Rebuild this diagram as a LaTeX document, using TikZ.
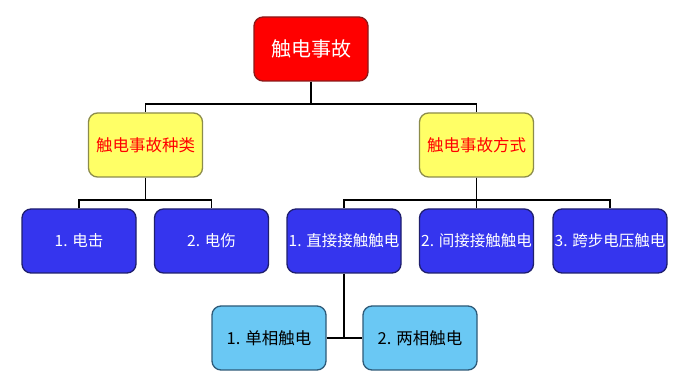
\documentclass[tikz,border=0pt]{standalone}
\usepackage{fontspec}
\newfontfamily\cjk{Noto Sans CJK SC}
\definecolor{redfill}{HTML}{FF0000}
\definecolor{redline}{HTML}{8B1A1A}
\definecolor{yelfill}{HTML}{FFFF66}
\definecolor{yelline}{HTML}{8C8C4A}
\definecolor{bluefill}{HTML}{3535EE}
\definecolor{blueline}{HTML}{1E1E6E}
\definecolor{lbfill}{HTML}{6AC8F4}
\definecolor{lbline}{HTML}{2E5A78}
\begin{document}
\begin{tikzpicture}[x=1pt,y=-1pt,
  box/.style={rounded corners=9pt,line width=1.3pt,minimum width=114pt,minimum height=64pt,inner sep=0pt,font=\cjk},
  topbox/.style={box,fill=redfill,draw=redline,text=white,font=\cjk\fontsize{20}{24}\selectfont},
  yelbox/.style={box,fill=yelfill,draw=yelline,text=red,font=\cjk\fontsize{16.5}{20}\selectfont},
  bluebox/.style={box,fill=bluefill,draw=blueline,text=white,font=\cjk\fontsize{15.5}{19}\selectfont},
  lbbox/.style={box,fill=lbfill,draw=lbline,text=black,font=\cjk\fontsize{16.5}{20}\selectfont},
  conn/.style={line width=1.6pt,black}]
\useasboundingbox[fill=white] (0,0) rectangle (681,387);
\node[topbox] (top) at (311,49) {触电事故};
\node[yelbox] (y1) at (145.5,145) {触电事故种类};
\node[yelbox] (y2) at (476.5,145) {触电事故方式};
\node[bluebox] (b1) at (79,241) {1. 电击};
\node[bluebox] (b2) at (211.5,241) {2. 电伤};
\node[bluebox] (b3) at (344,241) {1. 直接接触触电};
\node[bluebox] (b4) at (476.5,241) {2. 间接接触触电};
\node[bluebox] (b5) at (610,241) {3. 跨步电压触电};
\node[lbbox] (l1) at (269,338) {1. 单相触电};
\node[lbbox] (l2) at (420,338) {2. 两相触电};
\coordinate (hy1) at (0,104);
\coordinate (hy2) at (0,200);
\draw[conn] (top.south) |- (hy1 -| y1.north) -- (y1.north);
\draw[conn] (top.south) |- (hy1 -| y2.north) -- (y2.north);
\draw[conn] (y1.south) |- (hy2 -| b1.north) -- (b1.north);
\draw[conn] (y1.south) |- (hy2 -| b2.north) -- (b2.north);
\draw[conn] (y2.south) |- (hy2 -| b3.north) -- (b3.north);
\draw[conn] (y2.south) |- (hy2 -| b5.north) -- (b5.north);
\draw[conn] (y2.south) -- (b4.north);
\draw[conn] (l1.east) -- (l2.west);
\draw[conn] (b3.south) -- (b3.south |- l1.east);
\end{tikzpicture}
\end{document}
